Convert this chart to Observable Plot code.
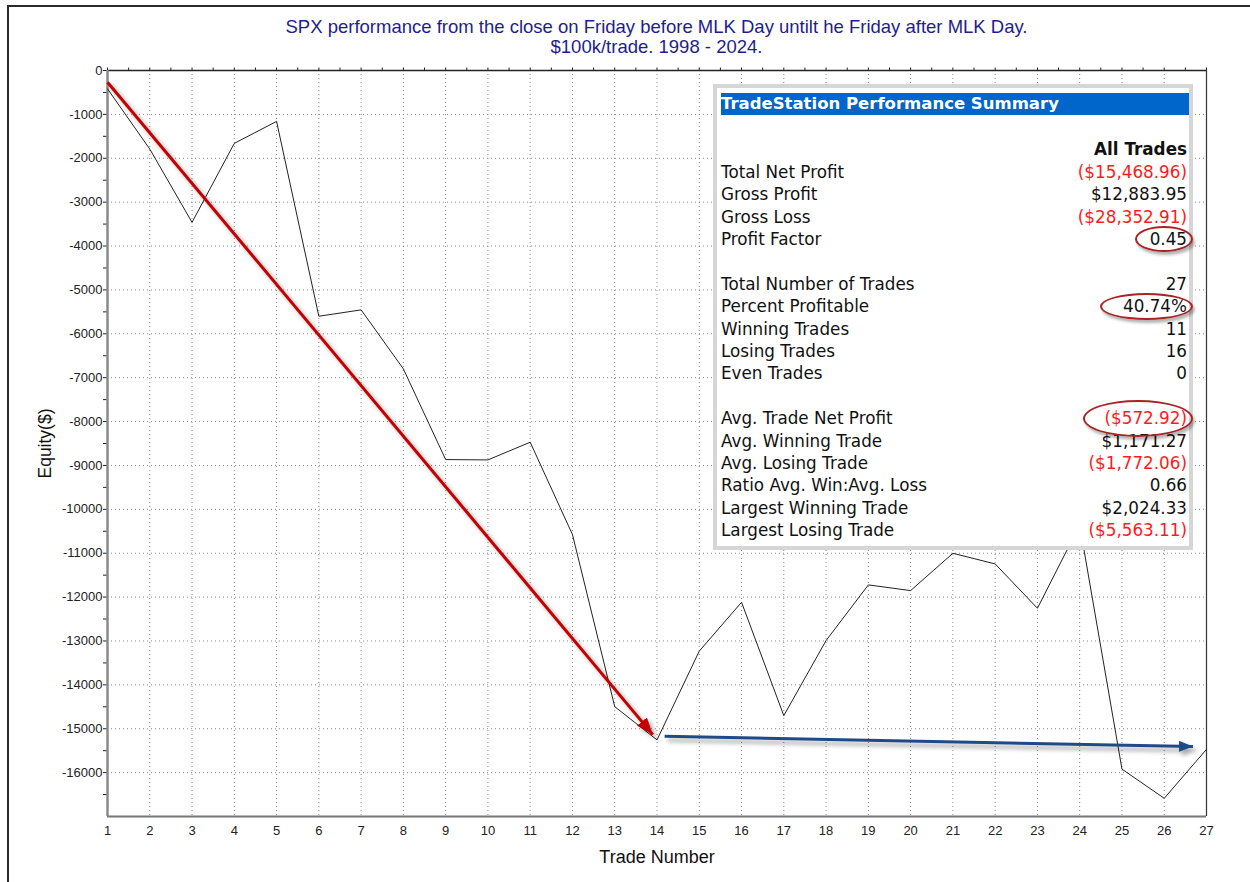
<!DOCTYPE html>
<html>
<head>
<meta charset="utf-8">
<script src="https://cdn.jsdelivr.net/npm/d3@7"></script>
<script src="https://cdn.jsdelivr.net/npm/@observablehq/plot@0.6"></script>
<style>
html,body{margin:0;padding:0;background:#fff;width:1250px;height:882px;overflow:hidden;}
#page{position:relative;width:1250px;height:882px;}
#frame{position:absolute;left:7px;top:5px;right:0;bottom:0;border-top:2px solid #2a2a2a;border-left:2px solid #2a2a2a;pointer-events:none;}
#title{position:absolute;left:107px;width:1099px;top:17px;text-align:center;font-family:"Liberation Sans",Arial,sans-serif;font-size:18.5px;color:#1e1e8c;line-height:20px;}
#chart{position:absolute;left:0;top:64px;}
#box{position:absolute;left:713px;top:84px;width:480px;height:466px;box-sizing:border-box;border:4px solid #d6d6d6;background:#fff;}
#hdr{position:absolute;left:721px;top:93px;width:468px;height:21.5px;background:#0066cc;color:#fff;font-family:"DejaVu Sans",Verdana,sans-serif;font-weight:bold;font-size:16.5px;line-height:21.5px;white-space:nowrap;}
.row{position:absolute;left:721px;width:466px;height:22.4px;line-height:22.4px;font-family:"DejaVu Sans",Verdana,sans-serif;font-size:16.8px;color:#111;white-space:nowrap;}
.row .v{position:absolute;right:0;top:0;}
.row .v.neg{color:#ff1a1a;}
.ell{position:absolute;border:2px solid #a82424;border-radius:50%;box-shadow:2px 3px 3px rgba(0,0,0,0.3);pointer-events:none;}
</style>
</head>
<body>
<div id="page">
  <div id="title"></div>
  <div id="chart"></div>
  <div id="box"></div>
  <div id="hdr"></div>
  <div id="rows"></div>
  <div id="ells"></div>
  <div id="frame"></div>
</div>
<script>
// ---- data ----
const titleLines = [
  "SPX performance from the close on Friday before MLK Day untilt he Friday after MLK Day.",
  "$100k/trade. 1998 - 2024."
];
const trades = [1,2,3,4,5,6,7,8,9,10,11,12,13,14,15,16,17,18,19,20,21,22,23,24,25,26,27];
const equity = [-418,-1790,-3460,-1660,-1160,-5600,-5455,-6800,-8866,-8874,-8471,-10575,-14496,-15255,-13231,-12118,-14701,-12991,-11722,-11852,-11002,-11244,-12255,-10360,-15920,-16585,-15468.96];
const yTicks = [0,-1000,-2000,-3000,-4000,-5000,-6000,-7000,-8000,-9000,-10000,-11000,-12000,-13000,-14000,-15000,-16000];
const xLabel = "Trade Number";
const yLabel = "Equity($)";
const redArrow = [{x1:1, y1:-267, x2:13.9, y2:-15134}];
const blueArrow = [{x1:14.18, y1:-15172, x2:26.68, y2:-15407}];

const summaryTitle = "TradeStation Performance Summary";
const summaryColumn = "All Trades";
const summaryLabels = ["Total Net Profit","Gross Profit","Gross Loss","Profit Factor","",
  "Total Number of Trades","Percent Profitable","Winning Trades","Losing Trades","Even Trades","",
  "Avg. Trade Net Profit","Avg. Winning Trade","Avg. Losing Trade","Ratio Avg. Win:Avg. Loss","Largest Winning Trade","Largest Losing Trade"];
const summaryValues = ["($15,468.96)","$12,883.95","($28,352.91)","0.45","",
  "27","40.74%","11","16","0","",
  "($572.92)","$1,171.27","($1,772.06)","0.66","$2,024.33","($5,563.11)"];
const circledRows = ["Profit Factor","Percent Profitable","Avg. Trade Net Profit"];

// ---- title ----
document.getElementById("title").innerHTML = titleLines.map(t => `<div>${t}</div>`).join("");

// ---- chart ----
const yMinor = d3.range(0, -17000, -500);
const xHalf = d3.range(1, 27.01, 0.5);
const font = '"Liberation Sans", Arial, sans-serif';
const chart = Plot.plot({
  width: 1250,
  height: 818,
  marginLeft: 107,
  marginRight: 44,
  marginTop: 6,
  marginBottom: 66,
  style: {fontFamily: font, fontSize: "13px", color: "#222", background: "transparent", overflow: "visible"},
  x: {domain: [1, 27]},
  y: {domain: [-17000, 0]},
  marks: [
    Plot.gridX(trades, {stroke: "#8a8a8a", strokeOpacity: 1, strokeDasharray: "1,3"}),
    Plot.gridY(yTicks.filter(d => d !== 0), {stroke: "#8a8a8a", strokeOpacity: 1, strokeDasharray: "1,3"}),
    Plot.axisX(trades, {tickSize: 0, tickPadding: 9, label: null, fontSize: 13, tickFormat: d => String(d)}),
    Plot.axisX(xHalf, {anchor: "top", tickSize: 3.5, tickFormat: () => "", label: null, stroke: "#222"}),
    Plot.axisY(yMinor, {tickSize: 4, tickPadding: 1, label: null, fontSize: 13, stroke: "#222",
      tickFormat: d => (d % 1000 === 0 ? String(d) : "")}),
    Plot.ruleY([0], {stroke: "#222", strokeWidth: 1.5}),
    Plot.ruleX([27], {stroke: "#333", strokeWidth: 1.2}),
    Plot.ruleX([1], {stroke: "#8a8a8a", strokeWidth: 2.5}),
    Plot.ruleY([-17000], {stroke: "#777", strokeWidth: 2}),
    Plot.line(trades.map((t, i) => ({t, v: equity[i]})), {x: "t", y: "v", stroke: "#222", strokeWidth: 1}),
    Plot.link(redArrow, {x1: "x1", y1: "y1", x2: "x2", y2: "y2", stroke: "#c40000", strokeWidth: 3, ariaLabel: "red-arrow"}),
    Plot.link(blueArrow, {x1: "x1", y1: "y1", x2: "x2", y2: "y2", stroke: "#1f4a87", strokeWidth: 3, ariaLabel: "blue-arrow"}),
    Plot.text([yLabel], {text: d => d, frameAnchor: "left", dx: -62, rotate: -90, textAnchor: "middle", lineAnchor: "middle", fontSize: 17.5, fill: "#111", fontFamily: font}),
    Plot.text([xLabel], {text: d => d, frameAnchor: "bottom", dy: 41, textAnchor: "middle", lineAnchor: "middle", fontSize: 18, fill: "#111", fontFamily: font})
  ]
});
document.getElementById("chart").appendChild(chart);

// arrow heads and shadows
const svg = d3.select(chart);
const defs = svg.append("defs");
function marker(id, color, len, wid) {
  defs.append("marker").attr("id", id).attr("markerUnits", "userSpaceOnUse")
    .attr("markerWidth", len).attr("markerHeight", wid)
    .attr("refX", len).attr("refY", wid / 2).attr("orient", "auto")
    .append("path").attr("d", `M0,0L${len},${wid / 2}L0,${wid}Z`).attr("fill", color);
}
marker("head-red", "#c40000", 17, 13);
marker("head-blue", "#1f4a87", 14, 11);
const links = chart.querySelectorAll('g[aria-label="link"]');
const gRed = chart.querySelector('g[aria-label="red-arrow"]') || links[0];
const gBlue = chart.querySelector('g[aria-label="blue-arrow"]') || links[1];
if (gRed) { d3.select(gRed).style("filter", "drop-shadow(3px 3px 2px rgba(0,0,0,0.35))").selectAll("path").attr("marker-end", "url(#head-red)"); }
if (gBlue) { d3.select(gBlue).style("filter", "drop-shadow(3px 4px 2px rgba(0,0,0,0.35))").selectAll("path").attr("marker-end", "url(#head-blue)"); }

// ---- summary box ----
document.getElementById("hdr").textContent = summaryTitle;
const rowTop0 = 149.5 - 11.2, rowStep = 22.4;
const rowsDiv = document.getElementById("rows");
const allRows = [{label: "", value: summaryColumn, bold: true}].concat(
  summaryLabels.map((l, i) => ({label: l, value: summaryValues[i]})));
allRows.forEach((r, i) => {
  const div = document.createElement("div");
  div.className = "row";
  div.style.top = (rowTop0 + i * rowStep) + "px";
  const lab = document.createElement("span");
  lab.textContent = r.label;
  const val = document.createElement("span");
  val.className = "v" + (r.value.startsWith("(") ? " neg" : "");
  val.textContent = r.value;
  if (r.bold) val.style.fontWeight = "bold";
  div.appendChild(lab); div.appendChild(val);
  rowsDiv.appendChild(div);
});
// ellipses around highlighted values
const ellDiv = document.getElementById("ells");
const ellSpecs = {"Profit Factor": [58, 26], "Percent Profitable": [93, 27], "Avg. Trade Net Profit": [110, 37]};
circledRows.forEach(name => {
  const i = summaryLabels.indexOf(name) + 1;
  const cy = rowTop0 + i * rowStep + 11.2;
  const [w, h] = ellSpecs[name];
  const e = document.createElement("div");
  e.className = "ell";
  e.style.left = (1193 - w) + "px";
  e.style.top = (cy - h / 2) + "px";
  e.style.width = w + "px";
  e.style.height = h + "px";
  e.style.boxSizing = "border-box";
  ellDiv.appendChild(e);
});
</script>
</body>
</html>
